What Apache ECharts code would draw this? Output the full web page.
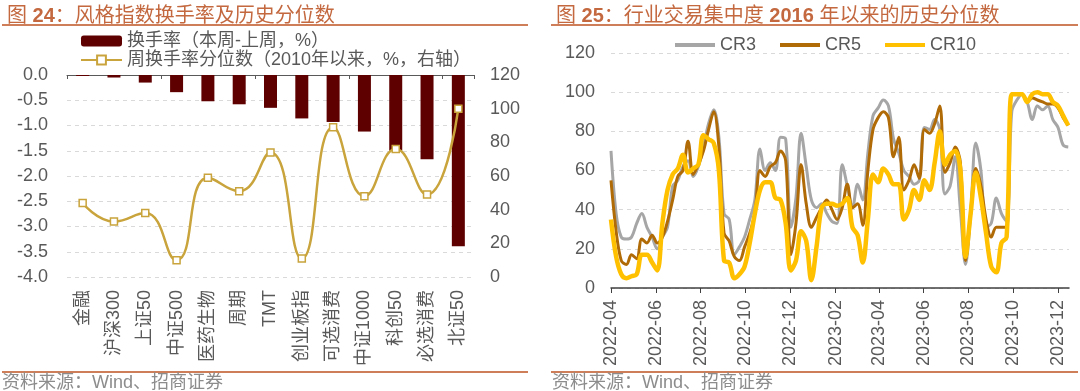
<!DOCTYPE html>
<html>
<head>
<meta charset="utf-8">
<script src="https://cdn.jsdelivr.net/npm/echarts@6/dist/echarts.min.js"></script>
<style>
html,body{margin:0;padding:0;background:#fff;}
#chart{width:1080px;height:391px;}
</style>
</head>
<body>
<div id="chart"></div>
<script>
// ---------- Left chart data ----------
const leftTitle = '风格指数换手率及历史分位数';
const styleCategories = ['金融','沪深300','上证50','中证500','医药生物','周期','TMT','创业板指','可选消费','中证1000','科创50','必选消费','北证50'];
const turnoverChange = [-0.02,-0.05,-0.15,-0.34,-0.52,-0.58,-0.65,-0.86,-0.93,-1.12,-1.50,-1.67,-3.39];
const turnoverPercentile = [44,33,38,10,59,51,74,11,89,48,76,49,100];
const leftSeriesNames = ['换手率（本周-上周，%）','周换手率分位数（2010年以来，%，右轴）'];

// ---------- Right chart data ----------
const rightTitle = '行业交易集中度';
const weekDates = [
'2022-04-01','2022-04-08','2022-04-15','2022-04-22','2022-04-29',
'2022-05-06','2022-05-13','2022-05-20','2022-05-27',
'2022-06-03','2022-06-10','2022-06-17','2022-06-24',
'2022-07-01','2022-07-08','2022-07-15','2022-07-22','2022-07-29',
'2022-08-05','2022-08-12','2022-08-19','2022-08-26',
'2022-09-02','2022-09-09','2022-09-16','2022-09-23','2022-09-30',
'2022-10-07','2022-10-14','2022-10-21','2022-10-28',
'2022-11-04','2022-11-11','2022-11-18','2022-11-25',
'2022-12-02','2022-12-09','2022-12-16','2022-12-23','2022-12-30',
'2023-01-06','2023-01-13','2023-01-20','2023-01-27',
'2023-02-03','2023-02-10','2023-02-17','2023-02-24',
'2023-03-03','2023-03-10','2023-03-17','2023-03-24','2023-03-31',
'2023-04-07','2023-04-14','2023-04-21','2023-04-28',
'2023-05-05','2023-05-12','2023-05-19','2023-05-26',
'2023-06-02','2023-06-09','2023-06-16','2023-06-23','2023-06-30',
'2023-07-07','2023-07-14','2023-07-21','2023-07-28',
'2023-08-04','2023-08-11','2023-08-18','2023-08-25',
'2023-09-01','2023-09-08','2023-09-15','2023-09-22','2023-09-29',
'2023-10-06','2023-10-13','2023-10-20','2023-10-27',
'2023-11-03','2023-11-10','2023-11-17','2023-11-24',
'2023-12-01','2023-12-08','2023-12-15'];
const cr3 = [70,38,26,25,26,33,38,31,26,20,26,31,52,55,62,65,57,62,
72,84,91,77,38,35,17,21,26,35,45,71,60,64,60,77,76,31,
46,79,62,45,41,43,38,34,33,63,52,41,53,45,69,88,92,96,
93,76,69,60,57,53,55,82,81,86,81,48,52,67,40,12,38,74,
60,31,33,46,38,34,90,96,99,95,86,93,91,93,86,82,73,72];
const cr5 = [55,29,14,12,17,15,25,23,27,23,26,34,45,57,60,75,58,63,
70,81,90,72,28,24,16,14,21,28,38,60,57,62,64,70,65,17,
33,63,43,31,36,41,45,40,35,41,53,41,43,32,60,81,87,90,
87,67,77,50,55,63,56,81,79,84,93,59,64,72,64,14,38,61,
52,35,26,31,31,31,99,99,99,95,97,96,95,94,94,92,87,83];
const cr10 = [35,16,7,5,6,7,17,17,13,9,33,50,58,61,68,59,61,63,
78,76,74,60,14,13,5,7,11,23,38,50,54,54,46,45,33,9,
14,29,24,4,21,41,43,43,42,43,46,31,27,13,35,58,54,61,
58,53,53,35,40,50,45,55,50,64,80,63,68,70,60,16,38,59,
46,28,11,8,23,26,99,99,99,95,99,100,99,99,95,93,88,83];
const monthTickLabels = ['2022-04','2022-06','2022-08','2022-10','2022-12','2023-02','2023-04','2023-06','2023-08','2023-10','2023-12'];
const rightAxisStart = '2022-04-01';
const rightAxisEnd = '2023-12-16';

// ---------- helpers ----------
const DAY = 86400000;
function utc(s){ const p = s.split('-').map(Number); return Date.UTC(p[0], p[1]-1, p[2] || 1); }
const originMs = utc(rightAxisStart);
function dayOf(s){ return Math.round((utc(s) - originMs) / DAY); }
const FONT = '"Liberation Sans", Arial, "Noto Sans CJK SC", sans-serif';
const TXT = '#595959';
const TITLE_COLOR = '#C3683F';
const RULE_COLOR = '#CF7E5A';
const GRID_LINE = '#D9D9D9';

const monthTicks = monthTickLabels.map(dayOf);
const tickLabelByDay = {};
monthTickLabels.forEach((l, i) => { tickLabelByDay[monthTicks[i]] = l; });
const toPairs = arr => arr.map((v, i) => [dayOf(weekDates[i]), v]);

const chart = echarts.init(document.getElementById('chart'), null, {renderer: 'canvas'});

const titleRich = {
  n: {fontSize: 20, color: TITLE_COLOR, fontWeight: 'normal', fontFamily: FONT},
  b: {fontSize: 20, color: TITLE_COLOR, fontWeight: 'bold', fontFamily: FONT}
};
const LINE_ICON = 'path://M0,0 L40,0 L40,4 L0,4 Z';

const option = {
  animation: false,
  backgroundColor: '#fff',
  textStyle: {fontFamily: FONT},
  title: [
    {left: 2, top: 1, text: '{n|图 }{b|24}{n|：' + leftTitle + '}', textStyle: {fontWeight: 'normal', rich: titleRich}},
    {left: 551, top: 1, text: '{n|图 }{b|25}{n|：' + rightTitle + ' }{b|2016}{n| 年以来的历史分位数}', textStyle: {fontWeight: 'normal', rich: titleRich}}
  ],
  graphic: [
    {type: 'line', shape: {x1: 2, y1: 25, x2: 528, y2: 25}, style: {stroke: RULE_COLOR, lineWidth: 2}},
    {type: 'line', shape: {x1: 551, y1: 25, x2: 1078, y2: 25}, style: {stroke: RULE_COLOR, lineWidth: 2}},
    {type: 'line', shape: {x1: 2, y1: 372, x2: 528, y2: 372}, style: {stroke: RULE_COLOR, lineWidth: 2}},
    {type: 'line', shape: {x1: 551, y1: 372, x2: 1078, y2: 372}, style: {stroke: RULE_COLOR, lineWidth: 2}},
    {type: 'text', x: 2, y: 383, style: {text: '资料来源：Wind、招商证券', fill: '#8C8C8C', fontSize: 18, fontFamily: FONT, verticalAlign: 'middle'}},
    {type: 'text', x: 552, y: 383, style: {text: '资料来源：Wind、招商证券', fill: '#8C8C8C', fontSize: 18, fontFamily: FONT, verticalAlign: 'middle'}}
  ],
  legend: [
    {
      left: 75, top: 27, orient: 'vertical', itemGap: 1, itemWidth: 41, itemHeight: 11,
      data: leftSeriesNames,
      textStyle: {color: TXT, fontSize: 18, fontFamily: FONT}
    },
    {
      left: 670, top: 31, orient: 'horizontal', itemGap: 24, itemWidth: 40, itemHeight: 4,
      data: [{name: 'CR3', icon: LINE_ICON}, {name: 'CR5', icon: LINE_ICON}, {name: 'CR10', icon: LINE_ICON}],
      textStyle: {color: TXT, fontSize: 18, fontFamily: FONT}
    }
  ],
  grid: [
    {left: 67, right: 606, top: 75, bottom: 114},
    {left: 611, right: 11, top: 53, bottom: 103}
  ],
  xAxis: [
    { // left: top decorative axis at zero
      gridIndex: 0, type: 'category', position: 'top', data: styleCategories, boundaryGap: true,
      axisLine: {show: true, onZero: false, lineStyle: {color: '#595959', width: 1}},
      axisTick: {show: true, inside: true, length: 4, lineStyle: {color: '#595959'}},
      axisLabel: {show: false}, splitLine: {show: false}
    },
    { // left: bottom labels
      gridIndex: 0, type: 'category', position: 'bottom', data: styleCategories, boundaryGap: true,
      axisLine: {show: false, onZero: false}, axisTick: {show: false},
      axisLabel: {rotate: 90, margin: 13, color: TXT, fontSize: 18, fontFamily: FONT, interval: 0},
      splitLine: {show: false}
    },
    { // right: day-offset axis with month ticks
      gridIndex: 1, type: 'value', min: 0, max: dayOf(rightAxisEnd),
      axisLine: {show: true, onZero: false, lineStyle: {color: '#404040', width: 1.5}},
      axisTick: {show: true, length: 5, customValues: monthTicks, lineStyle: {color: '#404040'}},
      axisLabel: {
        customValues: monthTicks, rotate: 90, margin: 12, color: TXT, fontSize: 18, fontFamily: FONT,
        showMinLabel: true, showMaxLabel: true,
        formatter: function (v) { return tickLabelByDay[Math.round(v)] || ''; }
      },
      splitLine: {show: false}
    }
  ],
  yAxis: [
    {
      gridIndex: 0, type: 'value', min: -4, max: 0, interval: 0.5,
      axisLine: {show: false}, axisTick: {show: false},
      axisLabel: {color: TXT, fontSize: 18, margin: 19, fontFamily: FONT, formatter: v => v.toFixed(1)},
      splitLine: {show: true, lineStyle: {color: GRID_LINE, type: [4, 4], width: 1}}
    },
    {
      gridIndex: 0, type: 'value', position: 'right', min: 0, max: 120, interval: 20,
      axisLine: {show: false}, axisTick: {show: false},
      axisLabel: {color: TXT, fontSize: 18, margin: 16, fontFamily: FONT},
      splitLine: {show: false}
    },
    {
      gridIndex: 1, type: 'value', min: 0, max: 120, interval: 20,
      axisLine: {show: false}, axisTick: {show: false},
      axisLabel: {color: TXT, fontSize: 18, margin: 16, fontFamily: FONT},
      splitLine: {show: true, lineStyle: {color: GRID_LINE, type: [4, 4], width: 1}}
    }
  ],
  series: [
    {
      name: leftSeriesNames[0], type: 'bar', xAxisIndex: 1, yAxisIndex: 0,
      data: turnoverChange, barWidth: 13,
      itemStyle: {color: '#5E0000'}
    },
    {
      name: leftSeriesNames[1], type: 'line', xAxisIndex: 1, yAxisIndex: 1,
      data: turnoverPercentile, smooth: 0.5,
      symbol: 'rect', symbolSize: 7, showAllSymbol: true,
      lineStyle: {color: '#C9A43C', width: 2.5},
      itemStyle: {color: '#FFFFFF', borderColor: '#C9A43C', borderWidth: 1.5},
      z: 5
    },
    {
      name: 'CR3', type: 'line', xAxisIndex: 2, yAxisIndex: 2,
      data: toPairs(cr3), smooth: 0.35, symbol: 'none',
      lineStyle: {color: '#A6A6A6', width: 3}, itemStyle: {color: '#A6A6A6'}, z: 2
    },
    {
      name: 'CR5', type: 'line', xAxisIndex: 2, yAxisIndex: 2,
      data: toPairs(cr5), smooth: 0.35, symbol: 'none',
      lineStyle: {color: '#B06A06', width: 3}, itemStyle: {color: '#B06A06'}, z: 3
    },
    {
      name: 'CR10', type: 'line', xAxisIndex: 2, yAxisIndex: 2,
      data: toPairs(cr10), smooth: 0.35, symbol: 'none',
      lineStyle: {color: '#FFC000', width: 4.5}, itemStyle: {color: '#FFC000'}, z: 4
    }
  ]
};
chart.setOption(option);
</script>
</body>
</html>
